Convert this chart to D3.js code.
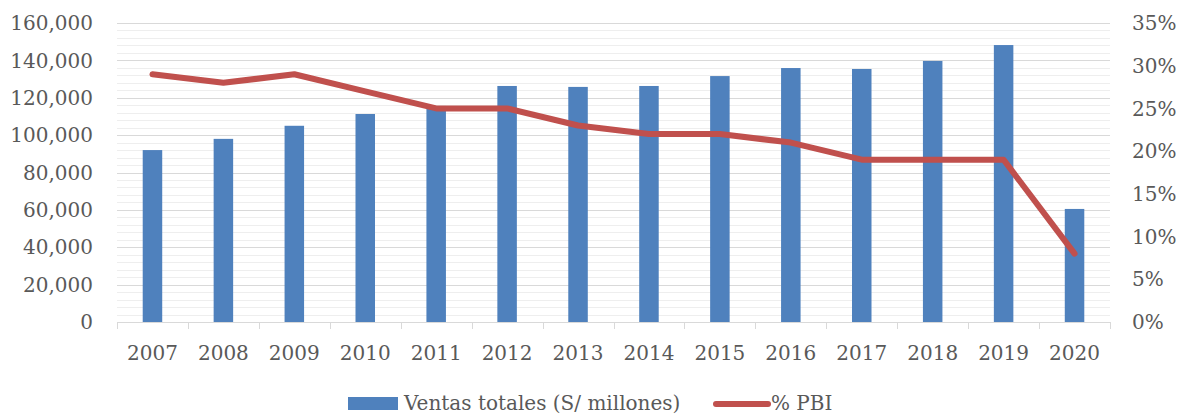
<!DOCTYPE html>
<meta charset="utf-8">
<style>
body { margin: 0; background: #fff; }
text { font-family: "DejaVu Serif", serif; fill: #595959; }
.grid-major line { stroke: #d9d9d9; stroke-width: 1; }
.grid-minor line { stroke: #eeeeee; stroke-width: 1; }
</style>
<body>
<script src="https://cdn.jsdelivr.net/npm/d3@7/dist/d3.min.js"></script>
<script>

// data
var years = ["2007","2008","2009","2010","2011","2012","2013","2014","2015","2016","2017","2018","2019","2020"];
var ventas = [92000, 98000, 105000, 111300, 115600, 126300, 125800, 126300, 131600, 135900, 135400, 139700, 148200, 60500];
var pbi = [29, 28, 29, 27, 25, 25, 23, 22, 22, 21, 19, 19, 19, 8];
var leftTicks = [0, 20000, 40000, 60000, 80000, 100000, 120000, 140000, 160000];
var rightTicks = [0, 5, 10, 15, 20, 25, 30, 35];
var minorTicks = d3.range(0, 160001, 4000);

var W = 1181, H = 415;
var margin = {top: 23, right: 71, bottom: 93, left: 117},
    width = W - margin.left - margin.right,
    height = H - margin.top - margin.bottom;

var svg = d3.select("body").append("svg")
    .attr("width", W)
    .attr("height", H)
  .append("g")
    .attr("transform", "translate(" + margin.left + "," + margin.top + ")");

var x = d3.scaleBand().domain(years).range([0, width]).paddingInner(0.725).paddingOuter(0.3625);
var xb = d3.scaleBand().domain(years).range([0, width]);
var y = d3.scaleLinear().domain([0, 160000]).range([height, 0]);
var y2 = d3.scaleLinear().domain([0, 35]).range([height, 0]);

// minor grid
svg.append("g").attr("class", "grid-minor")
  .selectAll("line").data(minorTicks.filter(function(d) { return d % 20000 != 0; }))
  .enter().append("line")
    .attr("x1", 0).attr("x2", width)
    .attr("y1", function(d) { return Math.round(y(d)) + 0.5; })
    .attr("y2", function(d) { return Math.round(y(d)) + 0.5; });

// major grid
svg.append("g").attr("class", "grid-major")
  .selectAll("line").data(leftTicks.slice(1))
  .enter().append("line")
    .attr("x1", 0).attr("x2", width)
    .attr("y1", function(d) { return Math.round(y(d)) + 0.5; })
    .attr("y2", function(d) { return Math.round(y(d)) + 0.5; });

// bars
svg.selectAll(".bar").data(ventas)
  .enter().append("rect")
    .attr("class", "bar")
    .attr("fill", "#4f81bd")
    .attr("x", function(d, i) { return x(years[i]); })
    .attr("width", x.bandwidth())
    .attr("y", function(d) { return y(d); })
    .attr("height", function(d) { return height - y(d); });

// line
var valueline = d3.line()
    .x(function(d, i) { return xb(years[i]) + xb.bandwidth() / 2; })
    .y(function(d) { return y2(d); });

svg.append("path")
    .datum(pbi)
    .attr("fill", "none")
    .attr("stroke", "#c0504d")
    .attr("stroke-width", 6)
    .attr("stroke-linejoin", "round")
    .attr("stroke-linecap", "round")
    .attr("d", valueline);

// x axis
var xAxis = svg.append("g")
    .attr("transform", "translate(0," + height + ")");
xAxis.append("line")
    .attr("x1", 0).attr("x2", width).attr("y1", 0.5).attr("y2", 0.5)
    .attr("stroke", "#d9d9d9");
xAxis.selectAll(".tk").data(d3.range(years.length + 1))
  .enter().append("line")
    .attr("x1", function(i) { return Math.round(i * xb.step()) + 0.5; })
    .attr("x2", function(i) { return Math.round(i * xb.step()) + 0.5; })
    .attr("y1", 0).attr("y2", 7)
    .attr("stroke", "#d9d9d9");
xAxis.selectAll("text").data(years)
  .enter().append("text")
    .attr("x", function(d) { return xb(d) + xb.bandwidth() / 2; })
    .attr("y", 38)
    .attr("text-anchor", "middle")
    .style("font-size", "20px")
    .text(function(d) { return d; });

// left axis labels
var fmt = d3.format(",");
svg.append("g").selectAll("text").data(leftTicks)
  .enter().append("text")
    .attr("x", -24)
    .attr("y", function(d) { return y(d); })
    .attr("dy", "0.36em")
    .attr("text-anchor", "end")
    .style("font-size", "20px")
    .text(function(d) { return fmt(d); });

// right axis labels
svg.append("g").selectAll("text").data(rightTicks)
  .enter().append("text")
    .attr("x", width + 22)
    .attr("y", function(d) { return y2(d); })
    .attr("dy", "0.36em")
    .attr("text-anchor", "start")
    .style("font-size", "20px")
    .text(function(d) { return d + "%"; });

// legend
var lg = d3.select("svg").append("g");
lg.append("rect")
    .attr("x", 348).attr("y", 397).attr("width", 50).attr("height", 13)
    .attr("fill", "#4f81bd");
lg.append("text")
    .attr("x", 404).attr("y", 410)
    .style("font-size", "20px")
    .text("Ventas totales (S/ millones)");
lg.append("line")
    .attr("x1", 716).attr("x2", 768).attr("y1", 404).attr("y2", 404)
    .attr("stroke", "#c0504d").attr("stroke-width", 6).attr("stroke-linecap", "round");
lg.append("text")
    .attr("x", 771).attr("y", 410)
    .style("font-size", "20px")
    .text("% PBI");

</script>
</body>
